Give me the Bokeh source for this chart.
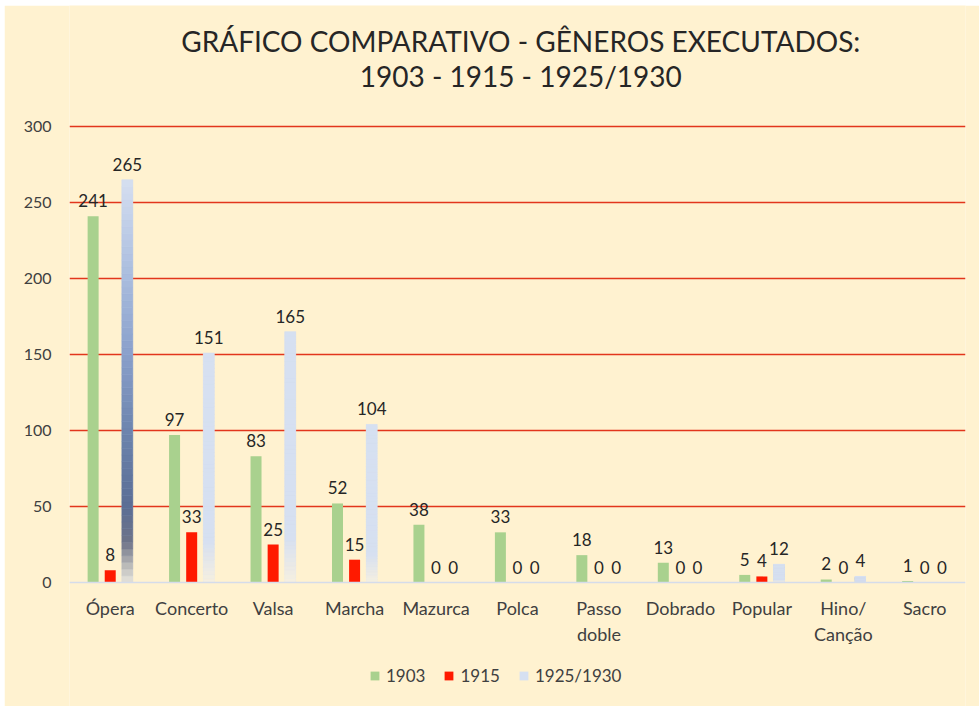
from bokeh.plotting import figure
from bokeh.models import (FactorRange, Range1d, FixedTicker, Legend, LegendItem, Label,
                          ColumnDataSource)
from bokeh.transform import dodge
from bokeh.core.properties import value
from bokeh.embed import file_html
from bokeh.resources import INLINE

categories = ["Ópera", "Concerto", "Valsa", "Marcha", "Mazurca", "Polca",
              "Passo\ndoble", "Dobrado", "Popular", "Hino/\nCanção", "Sacro"]
v1903 = [241, 97, 83, 52, 38, 33, 18, 13, 5, 2, 1]
v1915 = [8, 33, 25, 15, 0, 0, 0, 0, 4, 0, 0]
v1925 = [265, 151, 165, 104, 0, 0, 0, 0, 12, 4, 0]
series_names = ["1903", "1915", "1925/1930"]
y_ticks = [0, 50, 100, 150, 200, 250, 300]
title_lines = ["GRÁFICO COMPARATIVO - GÊNEROS EXECUTADOS:", "1903 - 1915 - 1925/1930"]

BG = "#FFF2D0"
GREEN = "#A9D18E"
RED = "#FF1A00"
BLUE = "#D6E0F1"
TXT = "#404040"
FONT = "Lato"

# layout (pixels): value axis 0..300 spans 456 px; strips above (titles) and below
PLOT_H = 456
ABOVE_H = 121
BELOW_H = 124
Y_MAX = 300
PX = Y_MAX / PLOT_H          # data units per pixel
y_min = -BELOW_H * PX
y_top = Y_MAX + ABOVE_H * PX

p = figure(x_range=FactorRange(factors=categories, range_padding=0),
           y_range=Range1d(y_min, y_top),
           frame_width=896, frame_height=ABOVE_H + PLOT_H + BELOW_H, output_backend="svg",
           toolbar_location=None,
           min_border_left=65, min_border_right=14, min_border_top=0,
           min_border_bottom=0)
p.margin = (5, 0, 0, 4)
p.title.visible = False
p.background_fill_color = BG
p.border_fill_color = BG
p.outline_line_color = None

OFF = 0.21
W = 0.135

src = ColumnDataSource(dict(cat=categories, a=v1903, b=v1915, c=v1925,
                            la=[str(v) for v in v1903],
                            lb=[str(v) for v in v1915],
                            lc=[str(v) for v in v1925]))

r1 = p.vbar(x=dodge("cat", -OFF, range=p.x_range), top="a", width=W, source=src,
            fill_color=GREEN, line_color=None)
r2 = p.vbar(x=dodge("cat", 0, range=p.x_range), top="b", width=W, source=src,
            fill_color=RED, line_color=None)
r3 = p.vbar(x=dodge("cat", OFF, range=p.x_range), top="c", width=W, source=src,
            fill_color=BLUE, line_color=None)


# gradient fill drawn over the 1925/1930 bars, built from their values
def hex2rgb(h):
    h = h.lstrip("#")
    return tuple(int(h[i:i + 2], 16) for i in (0, 2, 4))


def interp(stops, f):
    for (f0, c0), (f1, c1) in zip(stops, stops[1:]):
        if f0 <= f <= f1:
            t = 0 if f1 == f0 else (f - f0) / (f1 - f0)
            a, b = hex2rgb(c0), hex2rgb(c1)
            return "#%02x%02x%02x" % tuple(round(a[k] + (b[k] - a[k]) * t) for k in range(3))
    return stops[-1][1]


opera_stops = [(0.0, "#E8E6DE"), (0.04, "#BDBDBA"), (0.1, "#6E7388"), (0.19, "#5B6E95"),
               (0.38, "#6D85AE"), (0.57, "#8AA0CB"), (0.75, "#A8BBDD"), (0.94, "#CAD6EC"),
               (1.0, "#D6DFF0")]
light_stops = [(0.0, "#F6F0E0"), (0.18, BLUE), (1.0, BLUE)]

N = 60
seg = dict(cat=[], bottom=[], top=[], color=[])
for i, (c, v) in enumerate(zip(categories, v1925)):
    if v <= 0:
        continue
    stops = opera_stops if i == 0 else light_stops
    for k in range(N):
        f = (k + 0.5) / N
        seg["cat"].append(c)
        seg["bottom"].append(v * k / N)
        seg["top"].append(v * (k + 1) / N)
        seg["color"].append(interp(stops, f))
gsrc = ColumnDataSource(seg)
p.vbar(x=dodge("cat", OFF, range=p.x_range), bottom="bottom", top="top", width=W,
       source=gsrc, fill_color="color", line_color="color", line_width=0.5)

# data labels
for col, lab, off in (("a", "la", -OFF), ("b", "lb", 0), ("c", "lc", OFF)):
    p.text(x=dodge("cat", off, range=p.x_range), y=col, text=lab, source=src,
           text_align="center", text_baseline="bottom", y_offset=-9,
           text_font=value(FONT), text_font_size="17px", text_color="#262626")

# axes
p.yaxis.ticker = FixedTicker(ticks=y_ticks)
p.yaxis.axis_line_color = None
p.yaxis.major_tick_line_color = None
p.yaxis.minor_tick_line_color = None
p.yaxis.major_label_standoff = 12
p.yaxis.major_label_text_font = FONT
p.yaxis.major_label_text_font_size = "16px"
p.yaxis.major_label_text_color = TXT

p.xaxis.fixed_location = 0
p.xaxis.axis_line_color = "#D5DCEA"
p.xaxis.axis_line_width = 1.5
p.xaxis.major_tick_line_color = None
p.xaxis.minor_tick_line_color = None
p.xaxis.major_label_standoff = 8
p.xaxis.major_label_text_font = FONT
p.xaxis.major_label_text_font_size = "18px"
p.xaxis.major_label_text_color = TXT

p.xgrid.grid_line_color = None
p.ygrid.ticker = FixedTicker(ticks=y_ticks[1:])
p.ygrid.grid_line_color = "#E2361C"
p.ygrid.grid_line_width = 1.6

# two-line title, placed in the strip above the value axis (pixels above the 300 line)
for txt, px_above in zip(title_lines, (86, 51)):
    p.add_layout(Label(x=5.54, y=Y_MAX + px_above * PX, text=txt, text_align="center",
                       text_baseline="middle", text_font=FONT,
                       text_font_size="28px", text_color="#262626"))

legend = Legend(items=[LegendItem(label=series_names[0], renderers=[r1]),
                       LegendItem(label=series_names[1], renderers=[r2]),
                       LegendItem(label=series_names[2], renderers=[r3])],
                orientation="horizontal", location=(300, 20),
                glyph_width=11, glyph_height=11, label_standoff=6, spacing=18,
                label_text_font=FONT, label_text_font_size="17px",
                label_text_color=TXT, background_fill_alpha=0,
                border_line_color=None, padding=4, margin=0)
p.add_layout(legend, "center")

open("out.html", "w").write(file_html(p, INLINE))
